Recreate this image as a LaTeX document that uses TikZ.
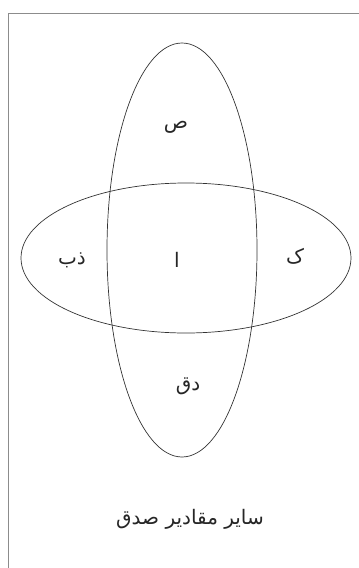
\documentclass[tikz,border=0pt]{standalone}
\usepackage{fontspec}
\TeXXeTstate=1
\newfontfamily\arabicfont[Script=Arabic]{DejaVu Sans}
\begin{document}
\begin{tikzpicture}[x=1pt,y=-1pt,
  venn/.style={draw=black!80,line width=0.7pt},
  lbl/.style={font=\arabicfont\fontsize{20}{22}\selectfont,inner sep=0pt,text=black!85}]
\useasboundingbox (0,0) rectangle (359,568);
\begin{scope}
\clip (0,0) rectangle (359,568);
\draw[draw=black!45,line width=0.7pt] (8.5,13) rectangle (380,600);
\end{scope}
\draw[venn] (182,250) ellipse [x radius=75, y radius=207];
\draw[venn] (186,258) ellipse [x radius=165, y radius=75];
\node[lbl] (s) at (176,127) {\beginR ص\endR};
\node[lbl] (zb) at (72,260) {\beginR ذب\endR};
\node[lbl] (a) at (177,260) {\beginR ا\endR};
\node[lbl] (k) at (295,256) {\beginR ک\endR};
\node[lbl] (dq) at (188,386) {\beginR دق\endR};
\node[lbl] (rest) at (190,519) {\beginR سایر مقادیر صدق\endR};
\end{tikzpicture}
\end{document}
